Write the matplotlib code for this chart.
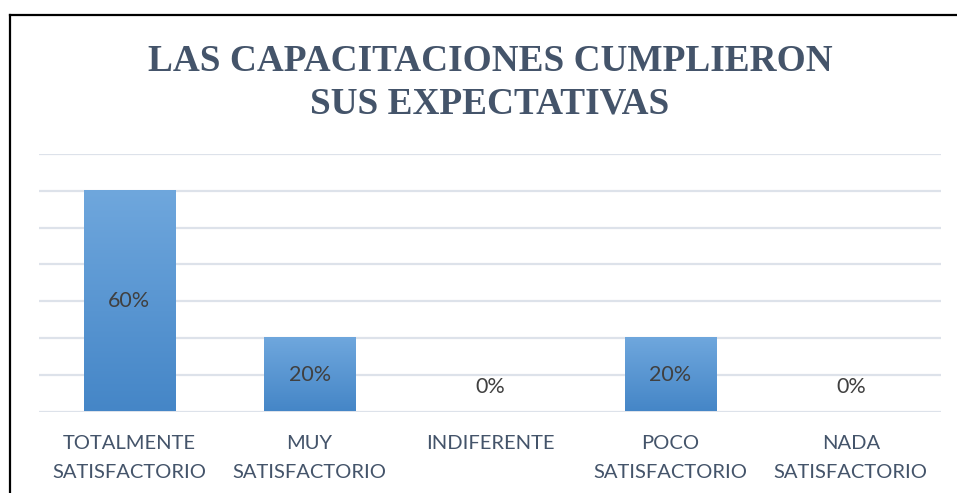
import numpy as np
import matplotlib.pyplot as plt
from matplotlib.colors import LinearSegmentedColormap
from matplotlib.lines import Line2D

categories = ["TOTALMENTE\nSATISFACTORIO", "MUY\nSATISFACTORIO", "INDIFERENTE",
              "POCO\nSATISFACTORIO", "NADA\nSATISFACTORIO"]
values = [60, 20, 0, 20, 0]
labels = ["60%", "20%", "0%", "20%", "0%"]

title_1 = "LAS CAPACITACIONES CUMPLIERON"
title_2 = "SUS EXPECTATIVAS"

text_col = "#44546A"
grad = LinearSegmentedColormap.from_list("bar", ["#4586C7", "#6FA7DD"])

fig = plt.figure(figsize=(9.57, 4.93), dpi=100)
ax = fig.add_axes([39 / 957, 1 - 411.5 / 493, 902 / 957, 257.5 / 493])

x = np.arange(len(values))
w = 0.505
bars = ax.bar(x, values, width=w, color="none", zorder=2)
g = np.linspace(0, 1, 256).reshape(-1, 1)
for b in bars:
    h = b.get_height()
    if h > 0:
        ax.imshow(g, cmap=grad, origin="lower", aspect="auto", zorder=2,
                  extent=[b.get_x(), b.get_x() + b.get_width(), 0, h])

for xi, v, lab in zip(x, values, labels):
    if v > 0:
        ax.text(xi, v / 2, lab, ha="center", va="center", fontsize=15.5,
                family="Lato", color="#404040", zorder=3)
    else:
        ax.annotate(lab, (xi, 0), xytext=(0, 17.5), textcoords="offset points",
                    ha="center", va="center", fontsize=15.5, family="Lato",
                    color="#404040")

ax.set_xlim(-0.5, len(values) - 0.5)
ax.set_ylim(0, 70)
ax.set_yticks(np.arange(0, 71, 10))
ax.yaxis.grid(True, color="#DDE2EA", linewidth=1.6)
ax.set_axisbelow(True)
ax.tick_params(axis="y", left=False, labelleft=False)
ax.set_xticks(x)
ax.set_xticklabels(categories, fontsize=14.5, family="Lato", color=text_col,
                   linespacing=1.85)
ax.tick_params(axis="x", length=0, pad=17)
for s in ax.spines.values():
    s.set_visible(False)

fig.text(490 / 957, 1 - 71 / 493, title_1, ha="center", va="baseline",
         fontsize=26.8, fontweight="bold", family="Liberation Serif", color=text_col)
fig.text(490 / 957, 1 - 113 / 493, title_2, ha="center", va="baseline",
         fontsize=26.8, fontweight="bold", family="Liberation Serif", color=text_col)

# marco negro
fig.add_artist(Line2D([10 / 957, 10 / 957], [0, 1 - 15 / 493], color="black",
                      linewidth=1.6, transform=fig.transFigure))
fig.add_artist(Line2D([10 / 957, 1], [1 - 15 / 493, 1 - 15 / 493], color="black",
                      linewidth=1.6, transform=fig.transFigure))

fig.savefig("out.png", dpi=100)
